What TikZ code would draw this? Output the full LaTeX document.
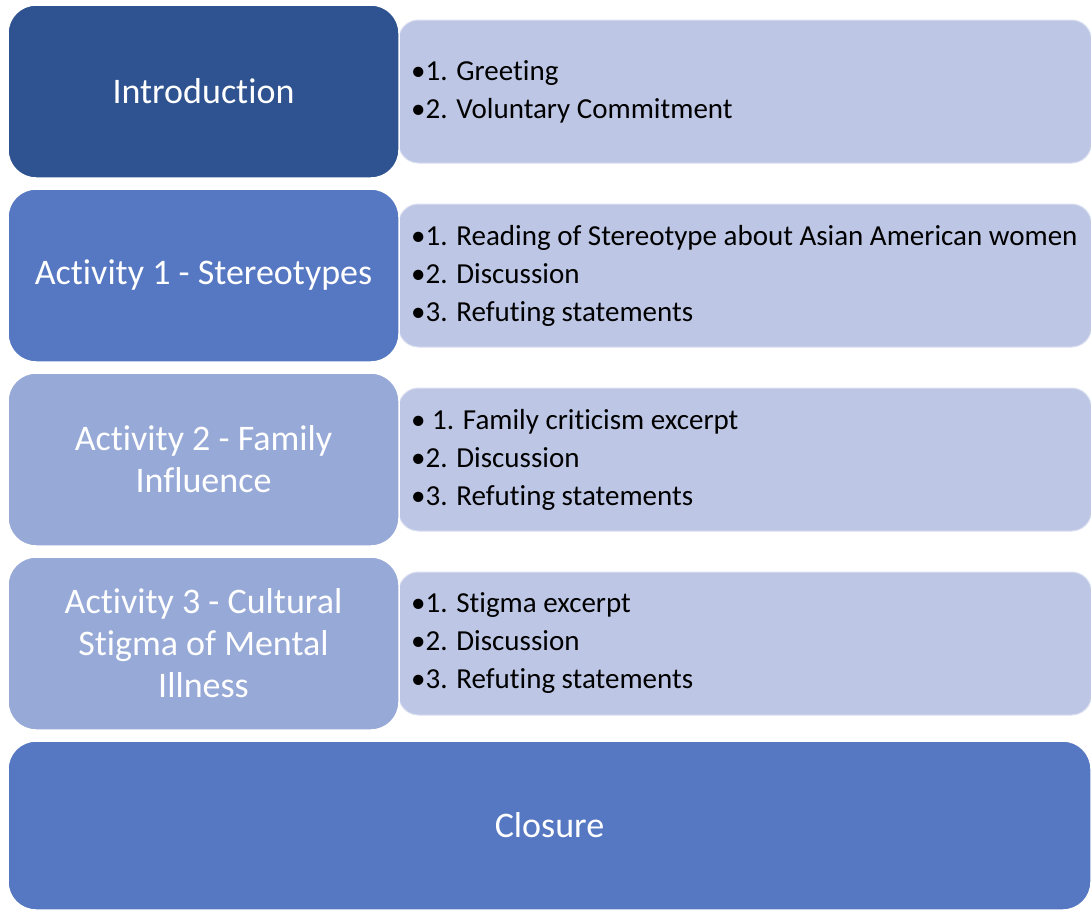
\documentclass[tikz,border=0pt]{standalone}
\usepackage{fontspec}
\setmainfont{Carlito}[Ligatures=NoCommon]
\usetikzlibrary{positioning}
\definecolor{introblue}{HTML}{2F5290}
\definecolor{stageblue}{HTML}{5677C1}
\definecolor{paleblue}{HTML}{97A9D6}
\definecolor{itemblue}{HTML}{BDC6E4}
\begin{document}
\begin{tikzpicture}[x=1pt, y=-1pt,
    stage/.style={draw=white, line width=1.5pt, rounded corners=28pt, text=white,
      minimum width=391pt, minimum height=173pt, align=center, inner sep=0pt,
      font=\fontsize{36}{42}\selectfont},
    items/.style={fill=itemblue, draw=white!45!itemblue, line width=1pt, rounded corners=20pt,
      minimum width=693pt, minimum height=143pt, anchor=west},
    list/.style={anchor=west, align=left, inner sep=0pt, font=\fontsize{29}{38}\selectfont}
  ]
  \useasboundingbox (0,0) rectangle (1091,911);
  % detail boxes, behind the stages
  \node[items] (introitems) at (398,91.5) {};
  \node[items] (act1items) at (398,275.5) {};
  \node[items] (act2items) at (398,459.5) {};
  \node[items] (act3items) at (398,643.5) {};
  \node[list] (introlist) at ([xshift=13pt]introitems.west) {•1. Greeting\\•2. Voluntary Commitment};
  \node[list] (act1list) at ([xshift=13pt]act1items.west) {•1. Reading of Stereotype about Asian American women\\•2. Discussion\\•3. Refuting statements};
  \node[list] (act2list) at ([xshift=13pt]act2items.west) {• 1. Family criticism excerpt\\•2. Discussion\\•3. Refuting statements};
  \node[list] (act3list) at ([xshift=13pt]act3items.west) {•1. Stigma excerpt\\•2. Discussion\\•3. Refuting statements};
  % stages
  \node[stage, fill=introblue] (intro) at (203.5,91.5) {Introduction};
  \node[stage, fill=stageblue] (act1) at (203.5,275.5) {Activity 1 - Stereotypes};
  \node[stage, fill=paleblue] (act2) at (203.5,459.5) {Activity 2 - Family\\Influence};
  \node[stage, fill=paleblue] (act3) at (203.5,643.5) {Activity 3 - Cultural\\Stigma of Mental\\Illness};
  \node[stage, fill=stageblue, minimum width=1083pt, minimum height=169pt] (closure) at (549.5,825.5) {Closure};
\end{tikzpicture}
\end{document}
